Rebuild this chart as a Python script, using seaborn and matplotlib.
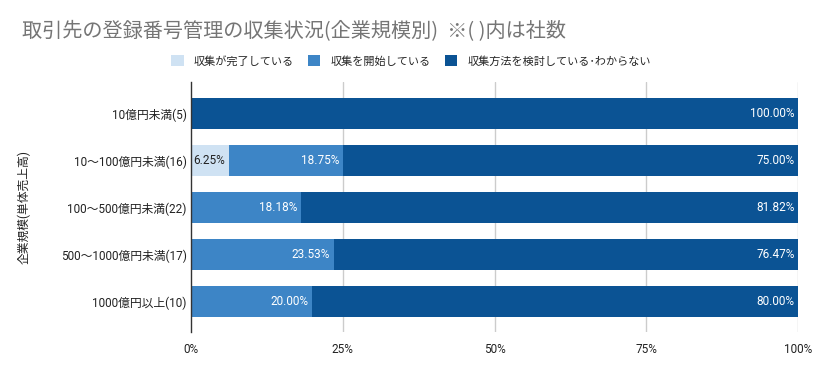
import matplotlib
matplotlib.use("Agg")
import matplotlib.pyplot as plt
import seaborn as sns
import pandas as pd
from matplotlib.patches import Patch

# データ（%）
categories = ["10億円未満(5)", "10～100億円未満(16)", "100～500億円未満(22)",
              "500～1000億円未満(17)", "1000億円以上(10)"]
series_names = ["収集が完了している", "収集を開始している", "収集方法を検討している･わからない"]
completed = [0, 6.25, 0, 0, 0]
started = [0, 18.75, 18.18, 23.53, 20.00]
considering = [100.00, 75.00, 81.82, 76.47, 80.00]
x_ticks = [0, 25, 50, 75, 100]
x_ticklabels = ["0%", "25%", "50%", "75%", "100%"]

colors = ["#cfe2f3", "#3d85c6", "#0b5394"]
label_colors = ["#222222", "white", "white"]

sns.set_theme(style="white")
plt.rcParams["font.family"] = ["Roboto", "Noto Sans CJK JP", "DejaVu Sans"]

df = pd.DataFrame({"cat": categories, "c": completed, "s": started, "k": considering})
df["cum1"] = df["c"]
df["cum2"] = df["c"] + df["s"]
df["cum3"] = df["c"] + df["s"] + df["k"]

fig = plt.figure(figsize=(8.18, 3.71), dpi=100)
ax = fig.add_axes([0.2335, 0.105, 0.7421, 0.674])

# 積み上げ（合計から順に重ねる）
layers = [("cum3", colors[2]), ("cum2", colors[1]), ("cum1", colors[0])]
for col, colr in layers:
    sns.barplot(data=df, y="cat", x=col, color=colr, orient="h", width=0.66,
                saturation=1, ax=ax, zorder=3, linewidth=0)

# ラベル
seg_vals = [completed, started, considering]
seg_ends = [df["cum1"], df["cum2"], df["cum3"]]
for vals, ends, lc in zip(seg_vals, seg_ends, label_colors):
    for i, (v, e) in enumerate(zip(vals, ends)):
        if v > 0:
            ax.text(e - 0.6, i, f"{v:.2f}%", ha="right", va="center",
                    fontsize=8.5, color=lc, zorder=5)

ax.set_xlim(0, 100)
ax.set_ylim(4.65, -0.67)
ax.set_xticks(x_ticks)
ax.set_xticklabels(x_ticklabels, fontsize=8.5, color="#222222")
ax.tick_params(axis="y", labelsize=8.5, colors="#222222", length=0, pad=3)
ax.tick_params(axis="x", length=0, pad=8)
ax.set_xlabel("")
ax.set_ylabel("企業規模(単体売上高)", fontsize=8.5, color="#222222", labelpad=0)
ax.yaxis.set_label_coords(-0.265, 0.5)
for x in x_ticks[1:]:
    ax.axvline(x, color="#cccccc", linewidth=1, zorder=1)
for s in ["top", "right", "bottom"]:
    ax.spines[s].set_visible(False)
ax.spines["left"].set_color("#333333")
ax.spines["left"].set_linewidth(1)
ax.spines["left"].set_zorder(6)

fig.text(22 / 818, 1 - 32 / 371, "取引先の登録番号管理の収集状況(企業規模別)  ※( )内は社数",
         fontsize=14.5, color="#757575", ha="left", va="center",
         family=["Noto Sans CJK JP", "DejaVu Sans"])

handles = [Patch(facecolor=c, edgecolor="none") for c in colors]
fig.legend(handles, series_names, loc="center", bbox_to_anchor=(411 / 818, 1 - 61 / 371),
           ncol=3, frameon=False, fontsize=8, handlelength=1.1, handleheight=1.1,
           handletextpad=0.9, columnspacing=1.3)

fig.savefig("out.png", dpi=100)
